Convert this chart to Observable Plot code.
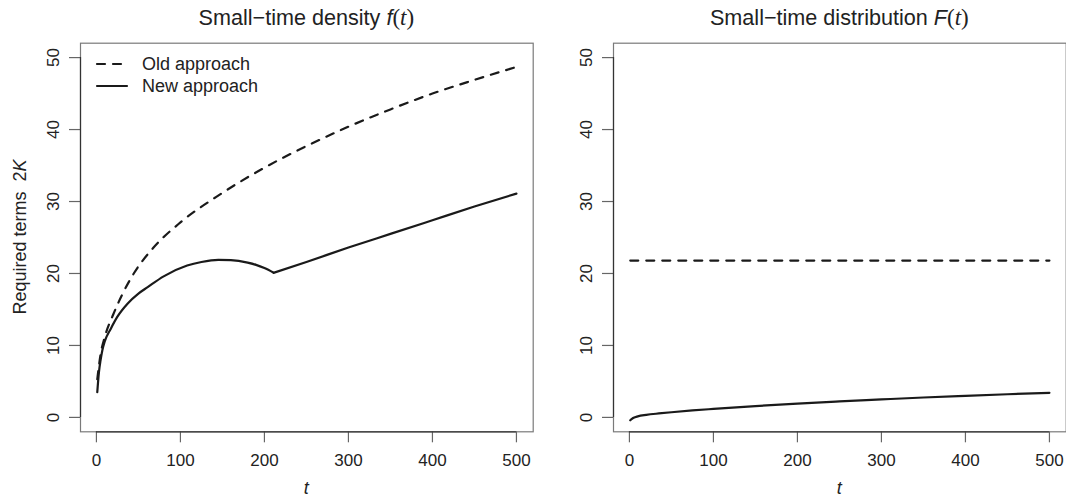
<!DOCTYPE html>
<html><head><meta charset="utf-8">
<script src="https://cdn.jsdelivr.net/npm/d3@7"></script>
<script src="https://cdn.jsdelivr.net/npm/@observablehq/plot@0.6"></script>
<style>
body{margin:0;background:#fff;}
#wrap{position:relative;width:1066px;height:499px;overflow:hidden;font-family:"Liberation Sans",Arial,Helvetica,sans-serif;color:#222;}
.panel{position:absolute;top:0;}
.title{position:absolute;top:7px;font-size:21.6px;line-height:21.6px;white-space:nowrap;transform:translateX(-50%);}
.math{font-family:"Liberation Serif","DejaVu Serif",serif;font-size:23px;}
.fs{font-family:"Liberation Sans",Arial,sans-serif;font-style:italic;font-size:21.6px;}
.it{font-style:italic;}
.xlab{position:absolute;top:479px;font-size:18px;line-height:18px;font-style:italic;transform:translateX(-50%);}
.ylab{position:absolute;left:20px;top:237px;font-size:18px;line-height:18px;white-space:nowrap;transform:translate(-50%,-50%) rotate(-90deg);}
.legend{position:absolute;left:95px;top:53px;font-size:18px;line-height:22px;}
.legend div{display:flex;align-items:center;height:22px;}
.legend svg{margin-right:13px;}
</style></head>
<body>
<div id="wrap"></div>
<script>
// ---- data ----
const xTicks = [0, 100, 200, 300, 400, 500];
const yTicks = [0, 10, 20, 30, 40, 50];
const yLimits = [0, 50];
const seriesNames = ["Old approach", "New approach"];
const panelTitles = ["Small\u2212time density ", "Small\u2212time distribution "];
const panelFuncs = ["f", "F"];

// Left panel: density f(t)
const tDensityOld = [1, 5, 10, 20, 30, 45, 68, 100, 150, 200, 250, 300, 350, 400, 450, 500];
const densityOld  = [5.3, 8.8, 11.2, 14.3, 16.9, 20.1, 23.6, 27.1, 31.2, 34.7, 37.7, 40.4, 42.8, 45.0, 46.9, 48.7];
const tDensityNew = [1, 3, 5, 7, 10, 17, 25, 37, 50, 61, 80, 108, 125, 145, 160, 180, 190, 200, 211, 250, 300, 350, 400, 450, 500];
const densityNew  = [3.5, 6.3, 8.0, 9.3, 10.6, 12.3, 14.0, 15.8, 17.2, 18.1, 19.6, 21.1, 21.6, 21.9, 21.85, 21.5, 21.2, 20.75, 20.1, 21.6, 23.6, 25.5, 27.4, 29.3, 31.1];

// Right panel: distribution F(t)
const tDistOld = [1, 100, 200, 300, 400, 500];
const distOld  = [21.8, 21.8, 21.8, 21.8, 21.8, 21.8];
const tDistNew = [1, 3, 5, 10, 20, 35, 50, 75, 100, 150, 200, 250, 300, 350, 400, 450, 500];
const distNew  = [-0.4, -0.2, -0.05, 0.15, 0.35, 0.55, 0.72, 0.97, 1.18, 1.57, 1.92, 2.22, 2.5, 2.77, 3.0, 3.22, 3.42];

// ---- helpers ----
const zip = (ts, vs) => ts.map((t, i) => ({t, v: vs[i]}));
const ext = ([a, b]) => [a - 0.04 * (b - a), b + 0.04 * (b - a)];
const ink = "#1a1a1a";

// split a series at its switching point (first interior local minimum), so the kink stays sharp
function segments(rows) {
  let k = -1;
  for (let i = 1; i < rows.length - 1; i++) {
    if (rows[i].v < rows[i - 1].v && rows[i].v < rows[i + 1].v) { k = i; break; }
  }
  if (k < 0) return rows.map(d => ({...d, seg: 0}));
  return rows.slice(0, k + 1).map(d => ({...d, seg: 0})).concat(rows.slice(k).map(d => ({...d, seg: 1})));
}

function panel(oldData, newData, xDomain) {
  const yDomain = ext(yLimits);
  return Plot.plot({
    width: 533, height: 499,
    marginLeft: 80, marginRight: 0.3, marginTop: 42.7, marginBottom: 67.7,
    x: {domain: xDomain},
    y: {domain: yDomain},
    style: {fontFamily: '"Liberation Sans", Arial, sans-serif', fontSize: "17px", color: "#222", background: "transparent", overflow: "visible"},
    marks: [
      Plot.frame({stroke: "#7a7a7a", strokeWidth: 1.2}),
      Plot.axisX({ticks: xTicks, tickSize: 11, tickFormat: () => "", label: null, stroke: "#666", strokeWidth: 1.2}),
      Plot.axisY({ticks: yTicks, tickSize: 11, tickFormat: () => "", label: null, stroke: "#666", strokeWidth: 1.2}),
      Plot.ruleY([yDomain[0]], {x1: xTicks[0], x2: xTicks[xTicks.length - 1], stroke: "#333", strokeWidth: 1.2}),
      Plot.ruleX([xDomain[0]], {y1: yTicks[0], y2: yTicks[yTicks.length - 1], stroke: "#333", strokeWidth: 1.2}),
      Plot.text(xTicks, {x: d => d, frameAnchor: "bottom", dy: 28.5, text: d => String(d), lineAnchor: "middle", textAnchor: "middle", fill: "#222", fontSize: 17}),
      Plot.text(yTicks, {y: d => d, frameAnchor: "left", dx: -27, rotate: -90, text: d => String(d), lineAnchor: "middle", textAnchor: "middle", fill: "#222", fontSize: 17}),
      Plot.line(oldData, {x: "t", y: "v", curve: "monotone-x", stroke: ink, strokeWidth: 2.2, strokeDasharray: "8,8", strokeLinecap: "round"}),
      Plot.line(segments(newData), {x: "t", y: "v", z: "seg", curve: "monotone-x", stroke: ink, strokeWidth: 2.2, strokeLinecap: "round", strokeLinejoin: "round"})
    ]
  });
}

const wrap = document.getElementById("wrap");
const allT = tDensityOld.concat(tDensityNew, tDistOld, tDistNew);
const xDomain = ext([d3.min(allT), d3.max(allT)]);

const panels = [
  panel(zip(tDensityOld, densityOld), zip(tDensityNew, densityNew), xDomain),
  panel(zip(tDistOld, distOld), zip(tDistNew, distNew), xDomain)
];
const offsets = [0, 533];
panels.forEach((svg, i) => {
  svg.classList.add("panel");
  svg.style.left = offsets[i] + "px";
  wrap.appendChild(svg);
  const cx = offsets[i] + (80 + 532.7) / 2;
  const title = document.createElement("div");
  title.className = "title";
  title.style.left = cx + "px";
  title.innerHTML = panelTitles[i] + '<span class="fs">' + panelFuncs[i] + '</span><span class="math">(<span class="it">t</span>)</span>';
  wrap.appendChild(title);
  const xl = document.createElement("div");
  xl.className = "xlab";
  xl.style.left = cx + "px";
  xl.textContent = "t";
  wrap.appendChild(xl);
});

const yl = document.createElement("div");
yl.className = "ylab";
yl.innerHTML = 'Required terms&nbsp;&nbsp;2<span class="it">K</span>';
wrap.appendChild(yl);

const legend = document.createElement("div");
legend.className = "legend";
legend.innerHTML = seriesNames.map((name, i) =>
  '<div><svg width="34" height="10"><line x1="2" x2="32" y1="5" y2="5" stroke="' + ink + '" stroke-width="2.2" stroke-linecap="round"' +
  (i === 0 ? ' stroke-dasharray="8,8"' : '') + '/></svg>' + name + '</div>').join("");
wrap.appendChild(legend);
</script>
</body></html>
